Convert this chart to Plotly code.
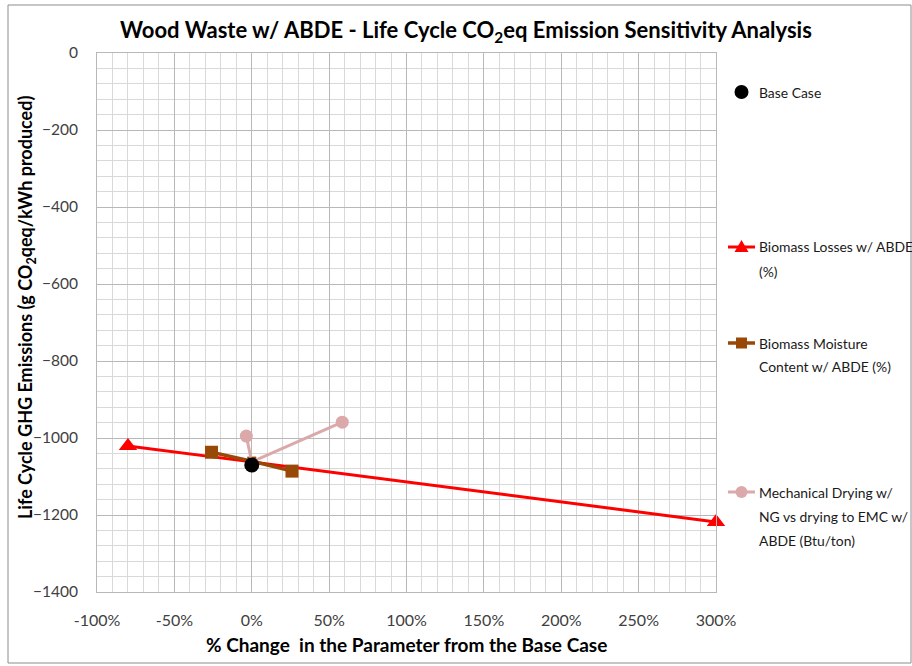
import plotly.graph_objects as go

# Sensitivity results: % change in parameter vs life cycle emissions (g CO2eq/kWh)
base_x = [0]
base_y = [-1070]

losses_x = [-80, 0, 300]
losses_y = [-1021, -1062, -1218]

moisture_x = [-26, 0, 26]
moisture_y = [-1037, -1060, -1086]

drying_x = [-3.5, 0, 58.5]
drying_y = [-995, -1062, -959]

x_ticks = [-100, -50, 0, 50, 100, 150, 200, 250, 300]
y_ticks = [0, -200, -400, -600, -800, -1000, -1200, -1400]

legend_lines = [
    ["Base Case"],
    ["Biomass Losses w/ ABDE", "(%)"],
    ["Biomass Moisture", "Content w/ ABDE (%)"],
    ["Mechanical Drying w/", "NG vs drying to EMC w/", "ABDE (Btu/ton)"],
]

RED = "#FF0000"
BROWN = "#984807"
PINK = "#DBA9A9"
FONT = "Lato"

W, H = 912, 666
L, R, T, B = 97, 196, 53, 74
plot_w = W - L - R
plot_h = H - T - B


def px_x(p):
    return (p - L) / plot_w


def px_y(p):
    return (H - B - p) / plot_h


def mk(symbol, size, color):
    return dict(symbol=symbol, size=size, color=color, opacity=1,
                line=dict(width=0, color=color))


fig = go.Figure()

fig.add_trace(go.Scatter(x=losses_x, y=losses_y, mode="lines+markers",
                         line=dict(color=RED, width=3), cliponaxis=False,
                         marker=mk("triangle-up", [16, 0, 16], RED),
                         showlegend=False))
fig.add_trace(go.Scatter(x=moisture_x, y=moisture_y, mode="lines+markers",
                         line=dict(color=BROWN, width=3.5), cliponaxis=False,
                         marker=mk("square", [13, 9, 13], BROWN),
                         showlegend=False))
fig.add_trace(go.Scatter(x=drying_x, y=drying_y, mode="lines+markers",
                         line=dict(color=PINK, width=3), cliponaxis=False,
                         marker=mk("circle", [13, 0, 13], PINK),
                         showlegend=False))
fig.add_trace(go.Scatter(x=base_x, y=base_y, mode="markers", cliponaxis=False,
                         marker=mk("circle", 15, "black"),
                         showlegend=False))

# Legend keys (line + symbol) and wrapped legend text, placed in pixel terms
leg_y = [92, 247, 343, 492]
key_x0, key_x1, key_xc = 728, 755, 741.5
shapes = []


def seg(y, color, width):
    shapes.append(dict(type="line", xref="paper", yref="paper",
                       x0=px_x(key_x0), x1=px_x(key_x1), y0=px_y(y), y1=px_y(y),
                       line=dict(color=color, width=width)))


def box(y, half, color, kind):
    shapes.append(dict(type=kind, xref="paper", yref="paper",
                       x0=px_x(key_xc - half), x1=px_x(key_xc + half),
                       y0=px_y(y + half), y1=px_y(y - half),
                       fillcolor=color, line=dict(color=color, width=0)))


box(leg_y[0], 7, "black", "circle")
seg(leg_y[1], RED, 3)
shapes.append(dict(type="path", xref="paper", yref="paper",
                   path=(f"M {px_x(key_xc - 7)},{px_y(leg_y[1] + 5)} "
                         f"L {px_x(key_xc + 7)},{px_y(leg_y[1] + 5)} "
                         f"L {px_x(key_xc)},{px_y(leg_y[1] - 7)} Z"),
                   fillcolor=RED, line=dict(color=RED, width=0)))
seg(leg_y[2], BROWN, 3.5)
box(leg_y[2], 5.5, BROWN, "rect")
seg(leg_y[3], PINK, 3)
box(leg_y[3], 6, PINK, "circle")

annotations = []
for lines, y0 in zip(legend_lines, leg_y):
    for i, line in enumerate(lines):
        annotations.append(dict(text=line, xref="paper", yref="paper",
                                x=px_x(757), y=px_y(y0 + 24 * i),
                                xanchor="left", yanchor="middle", align="left",
                                showarrow=False,
                                font=dict(family=FONT, size=13.9, color="#1a1a1a")))

annotations.append(dict(text="Wood Waste w/ ABDE - Life Cycle CO<sub>2</sub>eq Emission Sensitivity Analysis",
                        xref="paper", yref="paper", x=px_x(466), y=px_y(31),
                        xanchor="center", yanchor="middle", showarrow=False,
                        font=dict(family=FONT, size=22, color="black", weight="bold")))
annotations.append(dict(text="% Change  in the Parameter from the Base Case",
                        xref="paper", yref="paper", x=px_x(406), y=px_y(644),
                        xanchor="center", yanchor="middle", showarrow=False,
                        font=dict(family=FONT, size=19, color="black", weight="bold")))
annotations.append(dict(text="Life Cycle GHG Emissions (g CO<sub>2</sub>qeq/kWh produced)",
                        xref="paper", yref="paper", x=px_x(26), y=px_y(308),
                        xanchor="center", yanchor="middle", showarrow=False, textangle=-90,
                        font=dict(family=FONT, size=18, color="black", weight="bold")))

# Outer chart border (right edge runs off the page)
shapes.append(dict(type="rect", xref="paper", yref="paper",
                   x0=px_x(8), x1=px_x(911), y0=px_y(663), y1=px_y(5),
                   line=dict(color="#8c8c8c", width=1), layer="below"))

fig.update_layout(
    width=W, height=H,
    margin=dict(l=L, r=R, t=T, b=B),
    paper_bgcolor="white", plot_bgcolor="white",
    font=dict(family=FONT, size=16, color="#404040"),
    xaxis=dict(range=[-100, 300], tickvals=x_ticks,
               ticktext=[f"{v}%" for v in x_ticks],
               showgrid=True, gridcolor="#b8b8b8", gridwidth=1,
               minor=dict(dtick=10, showgrid=True, gridcolor="#d9d9d9", gridwidth=1),
               showline=True, linecolor="#b8b8b8", mirror=True,
               zeroline=False, ticks="", ticklabelstandoff=14,
               tickfont=dict(family=FONT, size=16, color="#404040")),
    yaxis=dict(range=[-1400, 0], tickvals=y_ticks,
               showgrid=True, gridcolor="#b8b8b8", gridwidth=1,
               minor=dict(dtick=40, showgrid=True, gridcolor="#d9d9d9", gridwidth=1),
               showline=True, linecolor="#b8b8b8", mirror=True,
               zeroline=False, ticks="", ticklabelstandoff=15,
               tickfont=dict(family=FONT, size=15.5, color="#404040")),
    annotations=annotations,
    shapes=shapes,
)

fig.write_html("out.html")
